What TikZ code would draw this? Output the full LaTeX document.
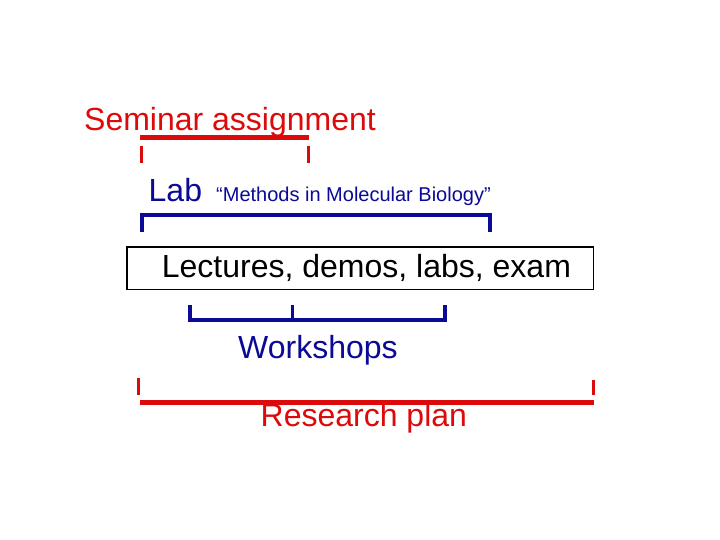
\documentclass[tikz,border=0pt]{standalone}
\usepackage{fontspec}
\setmainfont{Liberation Sans}
\usetikzlibrary{positioning}
\definecolor{planred}{RGB}{220,10,10}
\definecolor{labblue}{RGB}{10,10,150}
\tikzset{x=1pt, y=-1pt, % one unit is one pixel of the slide, y runs downwards
every node/.style={inner sep=0pt, anchor=base west}, % texts sit on their baseline
}

\begin{document}
\begin{tikzpicture}[
	big/.style={font=\fontsize{32}{38}\selectfont},
	small/.style={font=\fontsize{20}{24}\selectfont},
	redbar/.style={draw=planred, line width=4.5pt},
	redtick/.style={draw=planred, line width=3pt},
	bluebar/.style={draw=labblue, line width=4pt},
	bluetick/.style={draw=labblue, line width=3pt},
	box/.style={draw, line width=1.5pt, anchor=center, minimum width=466.5pt, minimum height=42.5pt}]
\useasboundingbox[fill=white] (0,0) rectangle (720,540);
% texts
\node[big, text=planred] (seminar) at (84,131) {Seminar assignment};
\node[big, text=labblue] (lab) at (148.5,202) {Lab};
\node[small, text=labblue] (methods) at (216,202) {“Methods in Molecular Biology”};
\node[box] (lectbox) at (360.25,268.25) {};
\node[big] (lectures) at (161.7,277) {Lectures, demos, labs, exam};
\node[big, text=labblue] (workshops) at (238,358) {Workshops};
\node[big, text=planred] (research) at (260.5,426) {Research plan};
% seminar bracket
\coordinate (sem-l) at (140,137.5);
\coordinate (sem-r) at (309,137.5);
\draw[redbar] (sem-l) -- (sem-r);
\draw[redtick] (141.5,146) -- (141.5,163);
\draw[redtick] (308.5,146) -- (308.5,163);
% lab bracket
\coordinate (lab-l) at (142,232);
\coordinate (lab-r) at (489.5,232);
\draw[bluebar] (lab-l) |- (lab-r |- 0,215) -- (lab-r);
% workshop bracket
\coordinate (ws-l) at (190,305);
\coordinate (ws-m) at (292,305);
\coordinate (ws-r) at (445,305);
\draw[bluebar] (ws-l) |- (ws-r |- 0,320) -- (ws-r);
\draw[bluetick] (ws-m) -- (292,320);
% research plan bracket
\coordinate (rp-l) at (140,402.5);
\coordinate (rp-r) at (593.5,402.5);
\draw[redbar] (rp-l) -- (rp-r);
\draw[redtick] (138,378) -- (138,395);
\draw[redtick] (593,380) -- (593,395);
\end{tikzpicture}
\end{document}
